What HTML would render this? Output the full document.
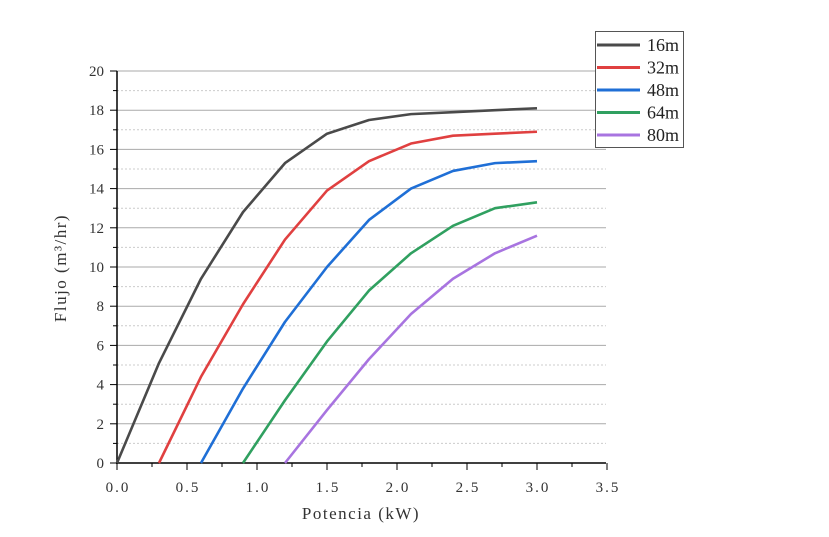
<!DOCTYPE html>
<html><head><meta charset="utf-8"><style>
body{margin:0;background:#fff;width:829px;height:537px;overflow:hidden}
svg{display:block;font-family:"Liberation Serif","Noto Serif CJK SC",serif}
</style></head><body>
<svg id="s" width="829" height="537" xmlns="http://www.w3.org/2000/svg"></svg>
<script>
const X=v=>117+v*140, Y=v=>463-v*19.6;
let h='';
for(let i=1;i<=20;i++){
  const y=Y(i);
  if(i%2==0) h+=`<line x1="117" x2="606" y1="${y}" y2="${y}" stroke="#aaa" stroke-width="1"/>`;
  else h+=`<line x1="117" x2="606" y1="${y}" y2="${y}" stroke="#ccc" stroke-width="1" stroke-dasharray="2,2"/>`;
}
h+=`<line x1="117" x2="117" y1="71" y2="464" stroke="#000" stroke-width="1.5"/>`;
h+=`<line x1="116" x2="606" y1="463" y2="463" stroke="#000" stroke-width="1.5"/>`;
for(let i=0;i<=20;i++){const y=Y(i);h+=`<line x1="${i%2?113:110}" x2="117" y1="${y}" y2="${y}" stroke="#000"/>`;
 if(i%2==0)h+=`<text x="104" y="${y+5}" font-size="15" text-anchor="end" fill="#333">${i}</text>`;}
for(let i=0;i<=14;i++){const x=X(i*0.25);h+=`<line x1="${x}" x2="${x}" y1="463" y2="${i%2?467:470}" stroke="#000"/>`;
 if(i%2==0)h+=`<text x="${x+1}" y="492" font-size="15" text-anchor="middle" fill="#333" letter-spacing="2">${(i*0.25).toFixed(1)}</text>`;}
h+=`<text x="361" y="519" font-size="17" text-anchor="middle" fill="#333" letter-spacing="1.5">Potencia (kW)</text>`;
h+=`<text transform="translate(66,268) rotate(-90)" font-size="17" text-anchor="middle" fill="#333" letter-spacing="1.5">Flujo (m³/hr)</text>`;
const S=[
["#4a4a4a",[[0,0],[0.3,5.1],[0.6,9.4],[0.9,12.8],[1.2,15.3],[1.5,16.8],[1.8,17.5],[2.1,17.8],[2.4,17.9],[2.7,18],[3,18.1]],"16m"],
["#e04040",[[0.3,0],[0.6,4.4],[0.9,8.1],[1.2,11.4],[1.5,13.9],[1.8,15.4],[2.1,16.3],[2.4,16.7],[2.7,16.8],[3,16.9]],"32m"],
["#1f6fd6",[[0.6,0],[0.9,3.8],[1.2,7.2],[1.5,10],[1.8,12.4],[2.1,14],[2.4,14.9],[2.7,15.3],[3,15.4]],"48m"],
["#30a060",[[0.9,0],[1.2,3.2],[1.5,6.2],[1.8,8.8],[2.1,10.7],[2.4,12.1],[2.7,13],[3,13.3]],"64m"],
["#a874e0",[[1.2,0],[1.5,2.7],[1.8,5.3],[2.1,7.6],[2.4,9.4],[2.7,10.7],[3,11.6]],"80m"]];
S.forEach(([c,d])=>{h+=`<polyline fill="none" stroke="${c}" stroke-width="2.6" stroke-linejoin="round" points="${d.map(p=>X(p[0])+','+Y(p[1])).join(' ')}"/>`;});
h+=`<rect x="595.5" y="31.5" width="88" height="116" fill="#fff" stroke="#555"/>`;
S.forEach(([c,,n],i)=>{const y=45+i*22.5;h+=`<line x1="597" x2="640" y1="${y}" y2="${y}" stroke="${c}" stroke-width="3"/><text x="647" y="${y+6}" font-size="18" fill="#222">${n}</text>`;});
document.getElementById('s').innerHTML=h;
</script>
</body></html>
